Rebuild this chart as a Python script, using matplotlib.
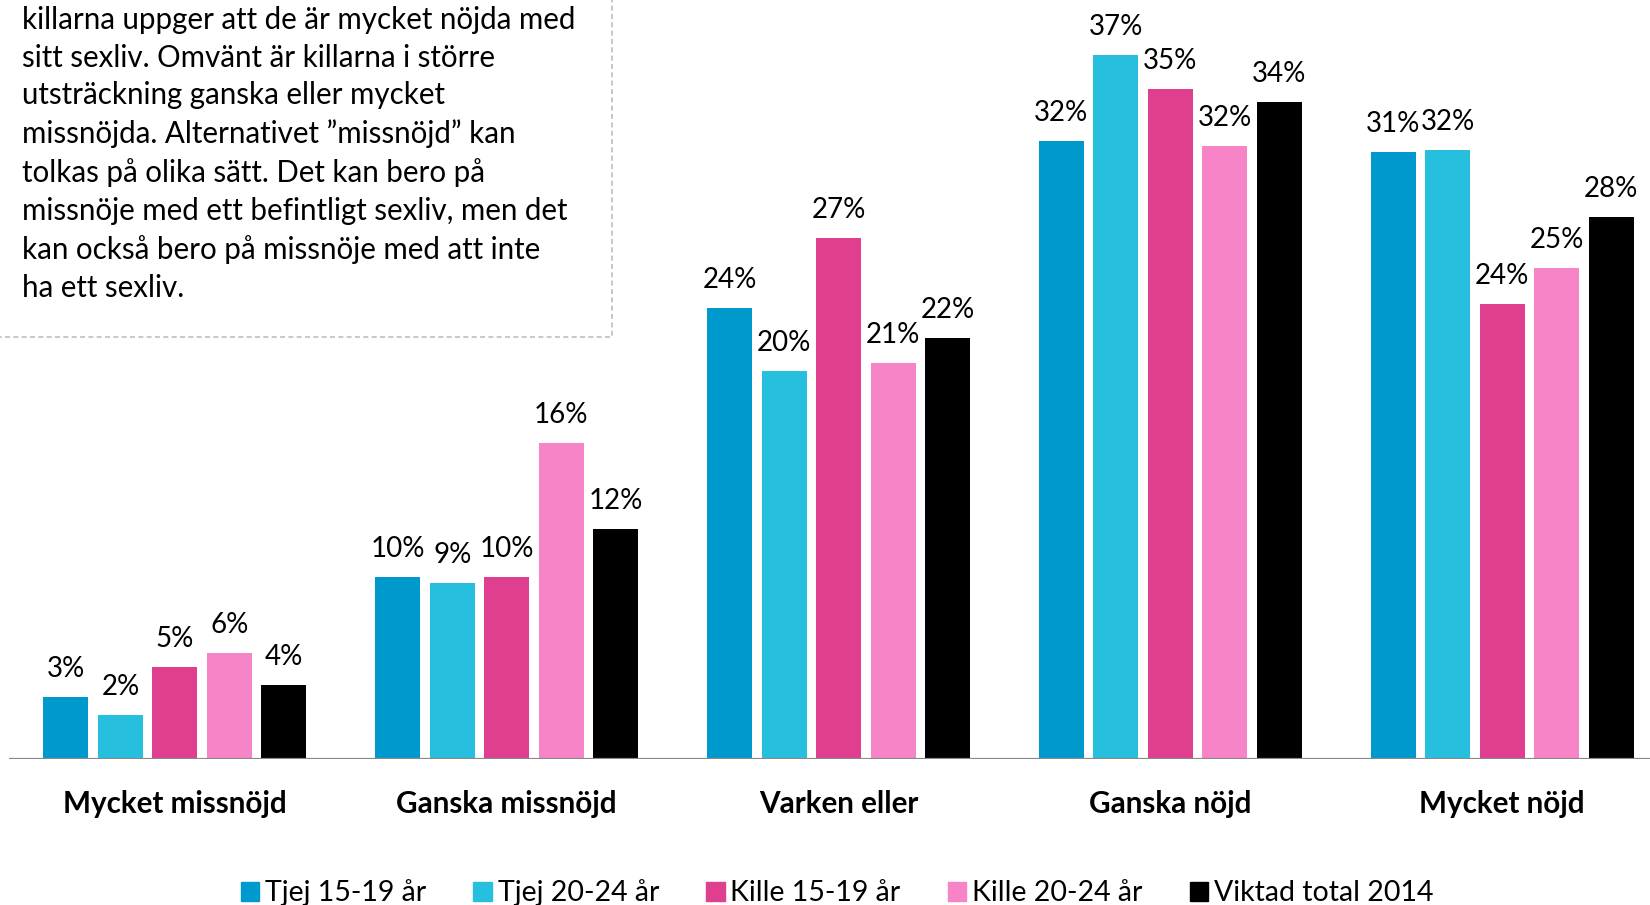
import matplotlib
matplotlib.use("Agg")
import matplotlib.pyplot as plt
from matplotlib.patches import Rectangle
import numpy as np

plt.rcParams['font.family'] = ['Lato', 'DejaVu Sans']

categories = ["Mycket missnöjd", "Ganska missnöjd", "Varken eller", "Ganska nöjd", "Mycket nöjd"]
series_names = ["Tjej 15-19 år", "Tjej 20-24 år", "Kille 15-19 år", "Kille 20-24 år", "Viktad total 2014"]
colors = ["#0099CE", "#26C0DE", "#E03E8F", "#F784C7", "#000000"]

tjej_15_19 = [3.26, 9.57, 23.7, 32.5, 31.9]
tjej_20_24 = [2.30, 9.24, 20.4, 37.0, 32.0]
kille_15_19 = [4.82, 9.57, 27.4, 35.2, 23.9]
kille_20_24 = [5.56, 16.6, 20.8, 32.2, 25.8]
viktad_total = [3.87, 12.06, 22.1, 34.5, 28.5]

tjej_15_19_labels = ["3%", "10%", "24%", "32%", "31%"]
tjej_20_24_labels = ["2%", "9%", "20%", "37%", "32%"]
kille_15_19_labels = ["5%", "10%", "27%", "35%", "24%"]
kille_20_24_labels = ["6%", "16%", "21%", "32%", "25%"]
viktad_total_labels = ["4%", "12%", "22%", "34%", "28%"]

series = [tjej_15_19, tjej_20_24, kille_15_19, kille_20_24, viktad_total]
labels = [tjej_15_19_labels, tjej_20_24_labels, kille_15_19_labels,
          kille_20_24_labels, viktad_total_labels]

info_text = ("killarna uppger att de är mycket nöjda med\n"
             "sitt sexliv. Omvänt är killarna i större\n"
             "utsträckning ganska eller mycket\n"
             "missnöjda. Alternativet ”missnöjd” kan\n"
             "tolkas på olika sätt. Det kan bero på\n"
             "missnöje med ett befintligt sexliv, men det\n"
             "kan också bero på missnöje med att inte\n"
             "ha ett sexliv.")

W, H = 1650, 905
fig = plt.figure(figsize=(W / 100, H / 100), dpi=100)
base_px = 759
cat_px = 331.8
px_per_pct = 19.03
left_px = 9
ax = fig.add_axes([left_px / W, (H - base_px) / H, (W - left_px) / W, base_px / H])
ax.set_xlim(-0.5, -0.5 + (W - left_px) / cat_px)
ax.set_ylim(0, base_px / px_per_pct)
ax.axis('off')

x = np.arange(len(categories))
pitch = 54.5 / cat_px
bw = 45 / cat_px
for i, (vals, labs, col) in enumerate(zip(series, labels, colors)):
    xs = x + (i - 2) * pitch
    ax.bar(xs, vals, width=bw, color=col, zorder=2)
    for xi, v, lab in zip(xs, vals, labs):
        ax.annotate(lab, (xi, v), xytext=(0, 15), textcoords='offset pixels',
                    ha='center', va='bottom', fontsize=20, color='black')

ax.axhline(0, xmin=0, xmax=1, color='#898989', lw=1.6, zorder=3)

for xi, c in zip(x, categories):
    ax.text(xi, -45 / px_per_pct, c, ha='center', va='center', fontsize=21.3,
            fontweight='bold', color='black')

# text box (cropped at top/left)
fig.patches.append(Rectangle((-20 / W, (H - 337) / H), (612 + 20) / W, 1,
                             transform=fig.transFigure, facecolor='white',
                             edgecolor='#BFBFBF', lw=1.2, linestyle=(0, (3, 2)),
                             zorder=5))
fig.text(22 / W, 1 - 6 / H, info_text, ha='left', va='top', fontsize=21.25,
         linespacing=1.42, color='black', zorder=6)

handles = [Rectangle((0, 0), 1, 1, color=c) for c in colors]
fig.legend(handles, series_names, loc='center', bbox_to_anchor=(837 / W, 1 - 893 / H),
           ncol=5, frameon=False, fontsize=20.5, handlelength=0.65, handleheight=0.65,
           handletextpad=0.2, columnspacing=1.66)

fig.savefig("out.png", dpi=100)
